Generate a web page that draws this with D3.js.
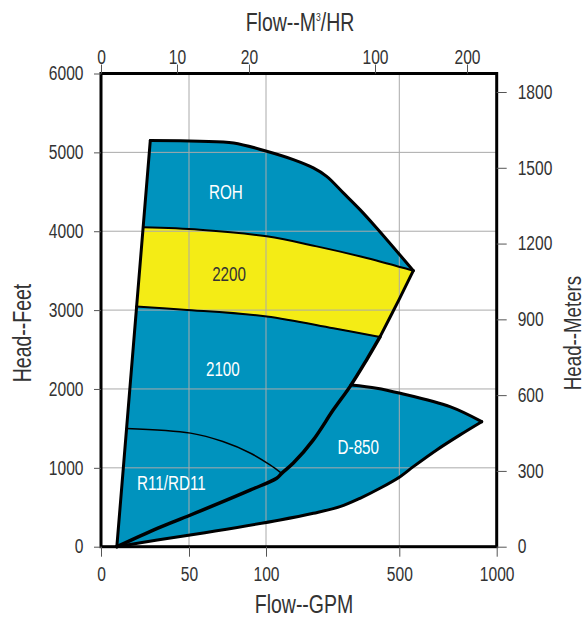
<!DOCTYPE html>
<meta charset="utf-8">
<head>
    <title>Pump coverage chart</title>
    <script type="text/javascript" src="https://d3js.org/d3.v7.min.js"></script>
    <style>
        body { margin: 0; background: #fff; }
        text { font-family: "Liberation Sans", Arial, sans-serif; fill: #333; }
        .tick line { stroke: #555; }
    </style>
</head>
<body>
<script>
    // axis ticks
    var gpmTicks = [0, 50, 100, 500, 1000];
    var m3hTicks = [0, 10, 20, 100, 200];
    var feetTicks = [0, 1000, 2000, 3000, 4000, 5000, 6000];
    var meterTicks = [0, 300, 600, 900, 1200, 1500, 1800];
    var gridGpm = [50, 100, 500];
    var gridFeet = [1000, 2000, 3000, 4000, 5000];

    // curves, [flow GPM, head feet]
    var leftEdge = [[28, 5150], [9, 0]];
    var rohTop = [[28, 5150], [45, 5148], [57, 5141], [79, 5120], [102, 5014], [182, 4908], [242, 4803], [282, 4696], [332, 4486], [382, 4274], [432, 4041], [572, 3500]];
    var roh2200 = [[24, 4050], [57, 4020], [102, 3935], [252, 3808], [402, 3661], [572, 3500]];
    var right2200 = [[572, 3500], [500, 3140], [442, 2660]];
    var top2100 = [[20, 3045], [47, 3005], [102, 2920], [302, 2770], [442, 2660]];
    var right2100 = [[442, 2660], [402, 2370], [352, 2030], [302, 1735], [242, 1355], [182, 1060], [147, 930], [132, 868], [90, 720], [51, 402], [32, 233], [9, 0]];
    var r11Line = [[14.5, 1500], [51, 1440], [72, 1333], [90, 1185], [112, 1037], [147, 930]];
    var d850Top = [[355, 2050], [432, 2010], [505, 1945], [760, 1775], [923, 1585]];
    var d850Bottom = [[923, 1585], [812, 1418], [692, 1227], [572, 1015], [504, 888], [442, 741], [382, 614], [322, 508], [242, 424], [142, 339], [67, 199], [32, 85], [9, 0]];

    var labels = [
        {name: "ROH", gpm: 74, ft: 4500, color: "#fff"},
        {name: "2200", gpm: 76, ft: 3460, color: "#333"},
        {name: "2100", gpm: 72, ft: 2255, color: "#fff"},
        {name: "R11/RD11", gpm: 40, ft: 812, color: "#fff"},
        {name: "D-850", gpm: 377, ft: 1270, color: "#fff"}
    ];

    var blue = "#0093be", yellow = "#f4ec15";
    var sx = 0.8; // condensed look

    var W = 587, H = 620;
    var margin = {top: 73.5, right: 90.3, bottom: 73.3, left: 101};
    var x0 = margin.left, x1 = W - margin.right, y0 = H - margin.bottom, y1 = margin.top;

    var svg = d3.select("body").append("svg").attr("width", W).attr("height", H);

    // the flow axes are not evenly spaced, so use a piecewise scale
    var x = d3.scaleLinear().domain(gpmTicks).range([x0, 189, 266, 399.3, x1]);
    var xTop = d3.scaleLinear().domain(m3hTicks).range([x0, 177, 249, 375, 467]);
    var y = d3.scaleLinear().domain([0, 6000]).range([y0, y1]);
    var yR = d3.scaleLinear().domain([0, 1800]).range([y0, 92]);

    var curve = d3.line().x(function(d){ return x(d[0]); }).y(function(d){ return y(d[1]); })
        .curve(d3.curveCatmullRom.alpha(0.5));

    // join smooth pieces into one outline, keeping the corners sharp
    function joined(pieces){
        return pieces.map(function(p, i){
            var s = curve(p);
            return i ? s.replace(/^M/, "L") : s;
        }).join("") + "Z";
    }
    function rev(a){ return a.slice().reverse(); }

    var lowerRight = right2100.filter(function(d){ return d[1] < 2050; });

    var fills = svg.append("g");
    [[[rohTop, rev(roh2200)], blue],
     [[roh2200, right2200, rev(top2100)], yellow],
     [[top2100, right2100], blue],
     [[d850Top, d850Bottom, rev(lowerRight)], blue]].forEach(function(p){
        fills.append("path").attr("d", joined(p[0])).attr("fill", p[1]).attr("stroke", p[1]).attr("stroke-width", 0.5);
    });

    // grid
    var grid = svg.append("g").attr("stroke", "#aaa").attr("stroke-width", 1);
    grid.selectAll(".gx").data(gridGpm).enter().append("line")
        .attr("x1", function(d){ return x(d); }).attr("x2", function(d){ return x(d); })
        .attr("y1", y1).attr("y2", y0);
    grid.selectAll(".gy").data(gridFeet).enter().append("line")
        .attr("y1", function(d){ return y(d); }).attr("y2", function(d){ return y(d); })
        .attr("x1", x0).attr("x2", x1);

    // outlines
    var outl = svg.append("g").attr("fill", "none").attr("stroke", "#000").attr("stroke-linejoin", "round").attr("stroke-linecap", "round");
    [[leftEdge, 3], [rohTop, 3], [right2200, 3], [d850Top, 3], [d850Bottom, 3], [right2100, 3.5], [roh2200, 2], [top2100, 2], [r11Line, 1.5]].forEach(function(s){
        outl.append("path").attr("d", curve(s[0])).attr("stroke-width", s[1]);
    });

    // frame
    svg.append("rect").attr("x", x0).attr("y", y1).attr("width", x1 - x0).attr("height", y0 - y1)
        .attr("fill", "none").attr("stroke", "#000").attr("stroke-width", 3);

    // axes
    function styleAxis(g){
        g.select(".domain").remove();
        g.selectAll("text").style("font-size", "19.5px").attr("fill", "#333").each(function(){
            var t = d3.select(this), tx = +t.attr("x") || 0;
            t.attr("x", tx / sx).attr("transform", "scale(" + sx + ",1)");
        });
    }
    var fmt = d3.format("d");
    svg.append("g").attr("transform", "translate(0," + y0 + ")")
        .call(d3.axisBottom(x).tickValues(gpmTicks).tickFormat(fmt).tickSize(10).tickPadding(10)).call(styleAxis);
    svg.append("g").attr("transform", "translate(0," + y1 + ")")
        .call(d3.axisTop(xTop).tickValues(m3hTicks).tickFormat(fmt).tickSize(9).tickPadding(1)).call(styleAxis);
    svg.append("g").attr("transform", "translate(" + x0 + ",0)")
        .call(d3.axisLeft(y).tickValues(feetTicks).tickFormat(fmt).tickSize(7).tickPadding(10.5)).call(styleAxis);
    svg.append("g").attr("transform", "translate(" + x1 + ",0)")
        .call(d3.axisRight(yR).tickValues(meterTicks).tickFormat(fmt).tickSize(10).tickPadding(11)).call(styleAxis);

    // axis titles
    var sc = " scale(0.78,1)";
    svg.append("text").attr("transform", "translate(304,613)" + sc).attr("text-anchor", "middle").style("font-size", "25px").text("Flow--GPM");
    var tt = svg.append("text").attr("transform", "translate(300,31)" + sc).attr("text-anchor", "middle").style("font-size", "25px");
    tt.append("tspan").text("Flow--M");
    tt.append("tspan").attr("dy", -10).style("font-size", "11px").text("3");
    tt.append("tspan").attr("dy", 10).text("/HR");
    svg.append("text").attr("transform", "translate(31,333) rotate(-90)" + sc).attr("text-anchor", "middle").style("font-size", "25px").text("Head--Feet");
    svg.append("text").attr("transform", "translate(581,333) rotate(-90)" + sc).attr("text-anchor", "middle").style("font-size", "24px").text("Head--Meters");

    // region labels
    svg.selectAll(".lab").data(labels).enter().append("text")
        .attr("transform", function(d){ return "translate(" + x(d.gpm) + "," + y(d.ft) + ")" + sc; })
        .attr("dy", "0.36em")
        .attr("text-anchor", "middle")
        .style("font-size", "19.5px")
        .style("fill", function(d){ return d.color; })
        .text(function(d){ return d.name; });
</script>
</body>
</html>
